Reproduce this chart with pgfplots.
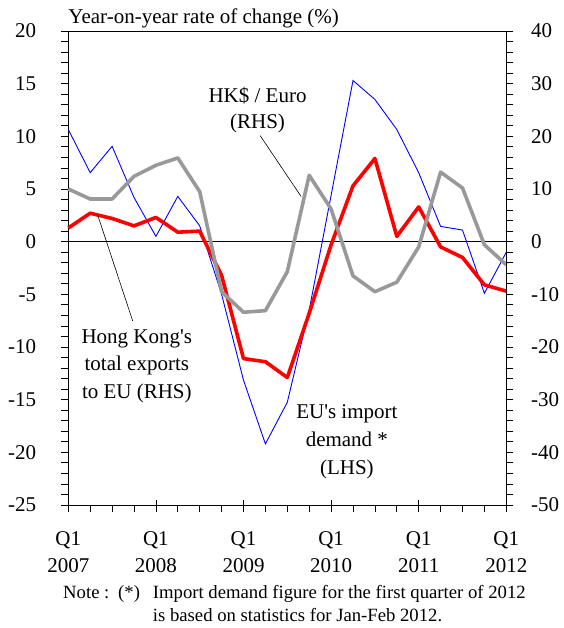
\documentclass[border=0pt]{standalone}
\usepackage{fontspec}
\setmainfont{Liberation Serif}
\usepackage{pgfplots}
\pgfplotsset{compat=1.18}
\definecolor{greyline}{RGB}{153,153,153}

\begin{document}
\fontsize{21}{27.7}\selectfont
\begin{tikzpicture}
% left axis: EU's import demand (LHS) plus the two RHS series halved
\begin{axis}[
  name=main, at={(0pt,0pt)}, anchor=south west,
  scale only axis, width=438pt, height=474pt,
  xmin=0, xmax=20, ymin=-25, ymax=20,
  clip=false,
  axis line style={line width=0.9pt},
  every tick/.style={draw=black, line width=0.8pt},
  tick align=outside, major tick length=7pt, minor tick length=7pt,
  ytick={-25,-20,...,20},
  yticklabels={-25,-20,-15,-10,-5,0,5,10,15,20},
  minor y tick num=4, ytick pos=left,
  xtick={0,4,...,20}, minor x tick num=3, xtick pos=bottom,
  xticklabels={Q1\\2007,Q1\\2008,Q1\\2009,Q1\\2010,Q1\\2011,Q1\\2012},
  xticklabel style={align=center, inner sep=0pt, yshift=-19pt},
  yticklabel style={inner sep=0pt, xshift=-25pt},
  extra x ticks={0,4,...,20}, extra x tick labels={},
  extra x tick style={tick align=inside, major tick length=5pt},
  ticklabel style={font=\fontsize{21}{27.7}\selectfont},
]
\draw[black, line width=1pt] (axis cs:0,0) -- (axis cs:20,0);
% Hong Kong's total exports to EU (RHS)
\addplot[blue, line width=0.9pt, y filter/.expression={y/2}] coordinates {
 (0,21.3) (1,13.1) (2,18.1) (3,8.4) (4,1.0) (5,8.6) (6,3.0) (7,-10.0)
 (8,-26.3) (9,-38.4) (10,-30.5) (11,-13.0) (12,8.8) (13,30.6) (14,27.0)
 (15,21.3) (16,13.1) (17,2.9) (18,2.2) (19,-9.8) (20,-2.0)};
% EU's import demand (LHS)
\addplot[red, line width=3.6pt, line join=round] coordinates {
 (0,1.3) (1,2.7) (2,2.2) (3,1.5) (4,2.3) (5,0.9) (6,1.0) (7,-3.2)
 (8,-11.1) (9,-11.4) (10,-12.9) (11,-6.8) (12,-0.3) (13,5.3) (14,7.9)
 (15,0.5) (16,3.3) (17,-0.5) (18,-1.5) (19,-4.1) (20,-4.7)};
% HK$ / Euro (RHS)
\addplot[greyline, line width=3.6pt, line join=round, y filter/.expression={y/2}] coordinates {
 (0,10.0) (1,8.1) (2,8.1) (3,12.4) (4,14.5) (5,15.9) (6,9.5) (7,-9.5)
 (8,-13.4) (9,-13.1) (10,-5.7) (11,12.6) (12,6.2) (13,-6.5) (14,-9.5)
 (15,-7.7) (16,-1.0) (17,13.2) (18,10.2) (19,-0.6) (20,-4.4)};
\node[align=center, font=\fontsize{21}{26.7}\selectfont] at (axis cs:8.64,12.5) {HK\$ / Euro\\(RHS)};
\draw[black, line width=0.6pt] (axis cs:8.76,10.07) -- (axis cs:10.63,4.29);
\node[align=center, font=\fontsize{21}{27.5}\selectfont] at (axis cs:3.13,-11.8) {Hong Kong\textquotesingle s\\total exports\\to EU (RHS)};
\draw[black, line width=0.6pt] (axis cs:1.34,2.54) -- (axis cs:2.94,-7.52);
\node[align=center, font=\fontsize{21}{28}\selectfont] at (axis cs:12.72,-19.0) {EU\textquotesingle s import\\demand *\\(LHS)};
\node[anchor=base west, inner sep=0pt, yshift=7pt] at (rel axis cs:0,1) {Year-on-year rate of change (\%)};
\end{axis}
% right axis scale for the RHS series
\begin{axis}[
  at={(0pt,0pt)}, anchor=south west,
  scale only axis, width=438pt, height=474pt,
  xmin=0, xmax=20, ymin=-50, ymax=40,
  axis y line*=right, axis x line=none,
  axis line style={line width=0.9pt},
  every tick/.style={draw=black, line width=0.8pt},
  tick align=outside, major tick length=7pt, minor tick length=7pt,
  ytick={-50,-40,...,40},
  yticklabels={-50,-40,-30,-20,-10,0,10,20,30,40},
  minor y tick num=4,
  yticklabel style={inner sep=0pt, xshift=17.5pt},
  ticklabel style={font=\fontsize{21}{27.7}\selectfont},
]
\addplot[draw=none] coordinates {(0,0) (20,0)};
\end{axis}
\begin{scope}[font=\fontsize{18.7}{22}\selectfont]
\node[anchor=base west, inner sep=0pt] at (-5.3pt,-93pt) {Note :};
\node[anchor=base west, inner sep=0pt] at (49.7pt,-93pt) {(*)};
\node[anchor=base west, inner sep=0pt] at (84.4pt,-93pt) {Import demand figure for the first quarter of 2012};
\node[anchor=base west, inner sep=0pt] at (84.4pt,-116.7pt) {is based on statistics for Jan-Feb 2012.};
\end{scope}
\pgfresetboundingbox
\path[use as bounding box] (-68.3pt,-123pt) rectangle (494.7pt,505pt);
\end{tikzpicture}
\end{document}
